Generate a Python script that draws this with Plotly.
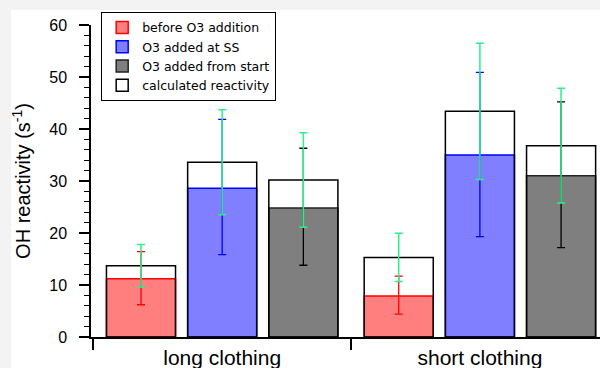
import plotly.graph_objects as go

categories = ["long clothing", "short clothing"]
series_names = ["before O3 addition", "O3 added at SS", "O3 added from start"]

measured = {
    "before O3 addition": [11.2, 7.9],
    "O3 added at SS": [28.6, 35.0],
    "O3 added from start": [24.8, 31.0],
}
measured_err_center = {
    "before O3 addition": [11.3, 8.05],
    "O3 added at SS": [28.85, 35.1],
    "O3 added from start": [25.05, 31.2],
}
measured_err = {
    "before O3 addition": [5.1, 3.65],
    "O3 added at SS": [13.0, 15.8],
    "O3 added from start": [11.25, 14.0],
}
calculated = {
    "before O3 addition": [13.7, 15.3],
    "O3 added at SS": [33.6, 43.4],
    "O3 added from start": [30.2, 36.8],
}
calculated_err = {
    "before O3 addition": [4.1, 4.65],
    "O3 added at SS": [10.1, 13.1],
    "O3 added from start": [9.1, 11.05],
}

fills = ["rgba(255,0,0,0.5)", "rgba(0,0,255,0.5)", "rgba(0,0,0,0.5)"]
edges = ["#ff0000", "#0000ff", "#222222"]
errcols = ["#ff0000", "#0000ff", "#000000"]
green = "#2cf08c"
offsets = [-0.449, -0.134, 0.181]
bw = 0.268

fig = go.Figure()

# colored measured bars
for i, name in enumerate(series_names):
    fig.add_trace(go.Bar(
        x=categories, y=measured[name], name=name,
        offset=offsets[i], width=bw,
        marker=dict(color=fills[i], line=dict(color=edges[i], width=1.5)),
        showlegend=True, legendrank=i + 1,
    ))

# calculated bars outline on top
for i, name in enumerate(series_names):
    fig.add_trace(go.Bar(
        x=categories, y=calculated[name], name="calculated reactivity",
        offset=offsets[i], width=bw,
        marker=dict(color="rgba(255,255,255,0)", line=dict(color="#000000", width=1.5)),
        showlegend=(i == 0), legendgroup="calc", legendrank=10,
        hoverinfo="skip",
    ))

# error bars for measured (invisible bars)
for i, name in enumerate(series_names):
    fig.add_trace(go.Bar(
        x=categories, y=measured_err_center[name],
        offset=offsets[i], width=bw,
        marker=dict(color="rgba(0,0,0,0)", line=dict(width=0)),
        error_y=dict(type="data", array=measured_err[name], color=errcols[i],
                     thickness=1.3, width=4),
        showlegend=False,
    ))

# error bars for calculated
for i, name in enumerate(series_names):
    fig.add_trace(go.Bar(
        x=categories, y=calculated[name],
        offset=offsets[i], width=bw,
        marker=dict(color="rgba(0,0,0,0)", line=dict(width=0)),
        error_y=dict(type="data", array=calculated_err[name], color=green,
                     thickness=1.5, width=4),
        showlegend=False,
    ))

fig.update_layout(
    width=600, height=368,
    margin=dict(l=91, r=0, t=25, b=31),
    barmode="overlay",
    paper_bgcolor="white",
    plot_bgcolor="white",
    font=dict(family="Liberation Sans, Arial, sans-serif", color="#000000"),
    showlegend=True,
    legend=dict(
        x=0.02, y=1.042, xanchor="left", yanchor="top",
        bgcolor="white", bordercolor="#000000", borderwidth=1,
        font=dict(size=12.5, family="DejaVu Sans, sans-serif"),
        tracegroupgap=0, itemwidth=30,
        traceorder="normal",
    ),
    xaxis=dict(
        type="category",
        range=[-0.509, 1.466],
        showline=True, linecolor="#000000", linewidth=1.5,
        ticks="outside", tickson="boundaries", ticklen=11, tickwidth=1.5,
        tickcolor="#000000",
        tickfont=dict(size=21), ticklabelstandoff=1,
        showgrid=False, zeroline=False,
    ),
    yaxis=dict(
        range=[0, 60],
        showline=True, linecolor="#000000", linewidth=1.5,
        ticks="outside", ticklen=10, tickwidth=1.5, tickcolor="#000000",
        dtick=10, tickfont=dict(size=16), ticklabelstandoff=9,
        minor=dict(dtick=2, ticks="outside", ticklen=5, tickwidth=1.2, tickcolor="#000000"),
        showgrid=False, zeroline=False,
        title=dict(text="OH reactivity (s<sup>-1</sup>)", font=dict(size=20), standoff=13),
    ),
    shapes=[
        dict(type="rect", xref="paper", yref="paper",
             x0=-91/509, x1=1.01, y0=1 + 15/312, y1=1 + 26/312,
             fillcolor="#f3f3f3", line=dict(width=0), layer="below"),
        dict(type="rect", xref="paper", yref="paper",
             x0=-91/509, x1=-80/509, y0=-32/312, y1=1 + 26/312,
             fillcolor="#f3f3f3", line=dict(width=0), layer="below"),
    ],
)

fig.write_html("out.html", config={"displayModeBar": False},
               post_script="document.body.style.margin='0';document.body.style.overflow='hidden';")
